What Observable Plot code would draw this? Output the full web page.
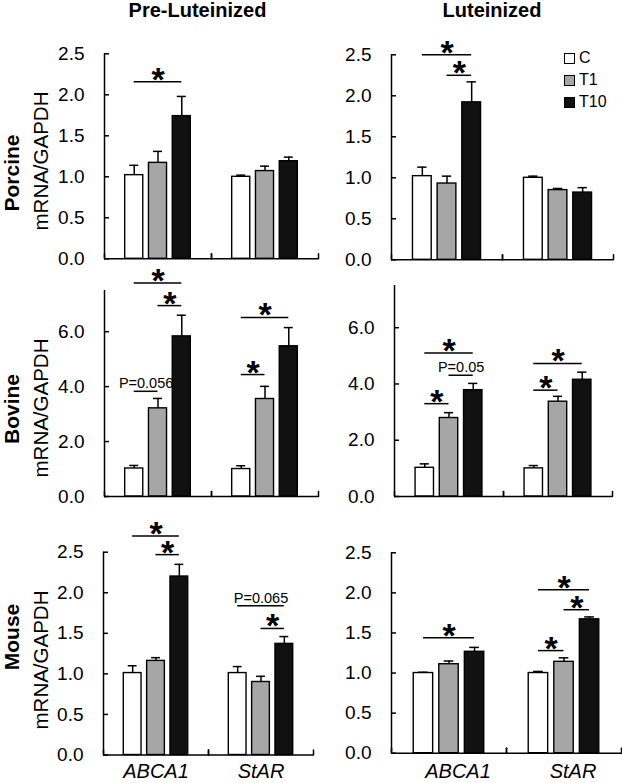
<!DOCTYPE html>
<html><head><meta charset="utf-8">
<script src="https://cdn.jsdelivr.net/npm/d3@7"></script>
<script src="https://cdn.jsdelivr.net/npm/@observablehq/plot@0.6"></script>
<style>
body{margin:0;background:#fff;}
#chart{position:relative;width:622px;height:783px;overflow:hidden;font-family:"Liberation Sans",Arial,sans-serif;color:#000;}
.lbl{position:absolute;white-space:nowrap;line-height:1;}
.sw{position:absolute;width:9px;height:9px;border:1.3px solid #000;}
</style></head><body><div id="chart"></div>
<script>
const genes = ["ABCA1", "StAR"];
const treatments = ["C", "T1", "T10"];
const fills = ["#ffffff", "#a6a6a6", "#111111"];
const species = ["Porcine", "Bovine", "Mouse"];
const stages = ["Pre-Luteinized", "Luteinized"];
const ticksSmall = [0, 0.5, 1, 1.5, 2, 2.5];
const ticksLarge = [0, 2, 4, 6];

// values ordered: ABCA1 C, T1, T10, StAR C, T1, T10
const porcinePreMean = [1.02, 1.17, 1.74, 1.00, 1.07, 1.19];
const porcinePreSem  = [0.12, 0.14, 0.24, 0.02, 0.06, 0.05];
const porcineLutMean = [1.02, 0.93, 1.92, 1.00, 0.85, 0.82];
const porcineLutSem  = [0.11, 0.09, 0.25, 0.02, 0.02, 0.06];
const bovinePreMean  = [1.02, 3.21, 5.83, 1.00, 3.55, 5.47];
const bovinePreSem   = [0.11, 0.36, 0.77, 0.12, 0.46, 0.68];
const bovineLutMean  = [1.02, 2.79, 3.78, 1.00, 3.37, 4.15];
const bovineLutSem   = [0.14, 0.19, 0.24, 0.10, 0.19, 0.27];
const mousePreMean   = [1.01, 1.16, 2.20, 1.01, 0.90, 1.37];
const mousePreSem    = [0.09, 0.04, 0.15, 0.08, 0.07, 0.09];
const mouseLutMean   = [1.00, 1.11, 1.265, 1.00, 1.14, 1.67];
const mouseLutSem    = [0.01, 0.04, 0.055, 0.02, 0.05, 0.03];

// significance: [gene, from, to, level, label]
const porcinePreSig = [["ABCA1", "C", "T10", 2.16, "*"]];
const porcineLutSig = [["ABCA1", "C", "T10", 2.50, "*"], ["ABCA1", "T1", "T10", 2.25, "*"]];
const bovinePreSig = [["ABCA1", "C", "T10", 7.77, "*"], ["ABCA1", "T1", "T10", 6.95, "*"], ["ABCA1", "C", "T1", 3.83, "P=0.056"],
                      ["StAR", "C", "T10", 6.52, "*"], ["StAR", "C", "T1", 4.44, "*"]];
const bovineLutSig = [["ABCA1", "C", "T10", 5.10, "*"], ["ABCA1", "T1", "T10", 4.31, "P=0.05"], ["ABCA1", "C", "T1", 3.30, "*"],
                      ["StAR", "C", "T10", 4.73, "*"], ["StAR", "C", "T1", 3.78, "*"]];
const mousePreSig = [["ABCA1", "C", "T10", 2.70, "*"], ["ABCA1", "T1", "T10", 2.47, "*"],
                     ["StAR", "C", "T10", 1.84, "P=0.065"], ["StAR", "T1", "T10", 1.56, "*"]];
const mouseLutSig = [["ABCA1", "C", "T10", 1.44, "*"], ["StAR", "C", "T10", 2.04, "*"],
                     ["StAR", "T1", "T10", 1.79, "*"], ["StAR", "C", "T1", 1.28, "*"]];

const W = 622, H = 783;
const XD = [-1.25, 3.25];
const FONT = "'Liberation Sans', Arial, sans-serif";
const tickUp = {draw(ctx, l) { ctx.moveTo(0, 0); ctx.lineTo(0, -l); }};

const panels = [
  {mean: porcinePreMean, sem: porcinePreSem, sig: porcinePreSig, ymax: 2.5, ticks: ticksSmall, frame: [104, 53.3, 318, 258.3]},
  {mean: porcineLutMean, sem: porcineLutSem, sig: porcineLutSig, ymax: 2.5, ticks: ticksSmall, frame: [391, 54.3, 613, 259.3]},
  {mean: bovinePreMean, sem: bovinePreSem, sig: bovinePreSig, ymax: 7.5, ticks: ticksLarge, frame: [103, 290, 318, 496]},
  {mean: bovineLutMean, sem: bovineLutSem, sig: bovineLutSig, ymax: 7.5, ticks: ticksLarge, frame: [393, 285, 612.5, 496]},
  {mean: mousePreMean, sem: mousePreSem, sig: mousePreSig, ymax: 2.5, ticks: ticksSmall, frame: [103, 551.7, 313, 754.5], labels: true, labelDx: 0},
  {mean: mouseLutMean, sem: mouseLutSem, sig: mouseLutSig, ymax: 2.5, ticks: ticksSmall, frame: [390.7, 552.3, 621, 752.7], labels: true, labelDx: 9}
];

function makePanel(p) {
  const rows = [];
  genes.forEach((g, gi) => treatments.forEach((t, ti) => {
    const m = p.mean[gi * 3 + ti], s = p.sem[gi * 3 + ti];
    rows.push({gene: g, treatment: t, ti, mean: m, top: m + s});
  }));
  const sigs = p.sig.map(([gene, from, to, y, label]) => ({gene, a: treatments.indexOf(from), b: treatments.indexOf(to), y, label}));
  const stars = sigs.filter(d => d.label === "*");
  const pvals = sigs.filter(d => d.label !== "*");
  const edges = [];
  genes.forEach(g => XD.forEach(x => edges.push({gene: g, x, y: 0})));
  const [x0, y0, x1, y1] = p.frame;
  const hw = 0.38, cap = 0.19, sw = 1.5;
  const marks = [
    Plot.ruleX([{gene: genes[0], x: XD[0]}], {fx: "gene", x: "x", strokeWidth: sw}),
    Plot.axisY({ticks: p.ticks, tickFormat: d3.format(".1f"), tickSize: -5, tickPadding: 25, fontSize: 19, strokeWidth: sw, fill: "black"}),
    Plot.rectY(rows, {fx: "gene", x1: d => d.ti - hw, x2: d => d.ti + hw, y1: 0, y2: "mean", fill: "treatment", stroke: "black", strokeWidth: 1.4}),
    Plot.ruleX(rows, {fx: "gene", x: "ti", y1: "mean", y2: "top", strokeWidth: sw}),
    Plot.ruleY(rows, {fx: "gene", y: "top", x1: d => d.ti - cap, x2: d => d.ti + cap, strokeWidth: sw}),
    Plot.ruleY([0], {strokeWidth: sw}),
    Plot.vector(edges, {fx: "gene", x: "x", y: "y", length: 5, rotate: 0, anchor: "start", shape: tickUp, stroke: "black", strokeWidth: sw}),
    Plot.ruleY(sigs, {fx: "gene", y: "y", x1: "a", x2: "b", strokeWidth: sw}),
    Plot.text(stars, {fx: "gene", x: d => (d.a + d.b) / 2, y: "y", text: "label", fontSize: 34, fontWeight: "bold", lineAnchor: "bottom", dy: 9, fill: "black"}),
    Plot.text(pvals, {fx: "gene", x: d => (d.a + d.b) / 2, y: "y", text: "label", fontSize: 14.5, lineAnchor: "bottom", dy: -3, fill: "black"})
  ];
  if (p.labels) {
    marks.push(Plot.text(genes, {fx: d => d, text: d => d, frameAnchor: "bottom", lineAnchor: "bottom", dy: 777 - y1, dx: p.labelDx, fontSize: 20, fontStyle: "italic", fill: "black"}));
  }
  return Plot.plot({
    width: W, height: H,
    marginLeft: x0, marginRight: W - x1, marginTop: y0, marginBottom: H - y1,
    style: `position:absolute;left:0;top:0;overflow:visible;background:transparent;font-family:${FONT};color:black;`,
    fx: {domain: genes, padding: 0, axis: null},
    x: {domain: XD, axis: null},
    y: {domain: [0, p.ymax], axis: null},
    color: {domain: treatments, range: fills},
    marks
  });
}

const chart = document.getElementById("chart");
panels.forEach(p => chart.appendChild(makePanel(p)));

function addLabel(text, css) {
  const d = document.createElement("div");
  d.className = "lbl";
  d.textContent = text;
  d.style.cssText += css;
  chart.appendChild(d);
  return d;
}
// column titles
addLabel(stages[0], "left:197.5px;top:0px;transform:translateX(-50%);font-size:20px;font-weight:bold;");
addLabel(stages[1], "left:492px;top:0px;transform:translateX(-50%);font-size:20px;font-weight:bold;");
// row labels
const rowCenters = [[172.5, 160.7], [409, 407.7], [636.7, 660]];
species.forEach((s, i) => {
  addLabel(s, `left:11px;top:${rowCenters[i][0]}px;transform:translate(-50%,-50%) rotate(-90deg);font-size:21px;font-weight:bold;`);
  addLabel("mRNA/GAPDH", `left:41px;top:${rowCenters[i][1]}px;transform:translate(-50%,-50%) rotate(-90deg);font-size:20.5px;`);
});
// legend
treatments.forEach((t, i) => {
  const top = 52.5 + i * 22;
  const sq = document.createElement("div");
  sq.className = "sw";
  sq.style.left = "564px";
  sq.style.top = top + "px";
  sq.style.background = fills[i];
  chart.appendChild(sq);
  addLabel(t, `left:579px;top:${top - 2.5}px;font-size:16px;`);
});
</script></body></html>
